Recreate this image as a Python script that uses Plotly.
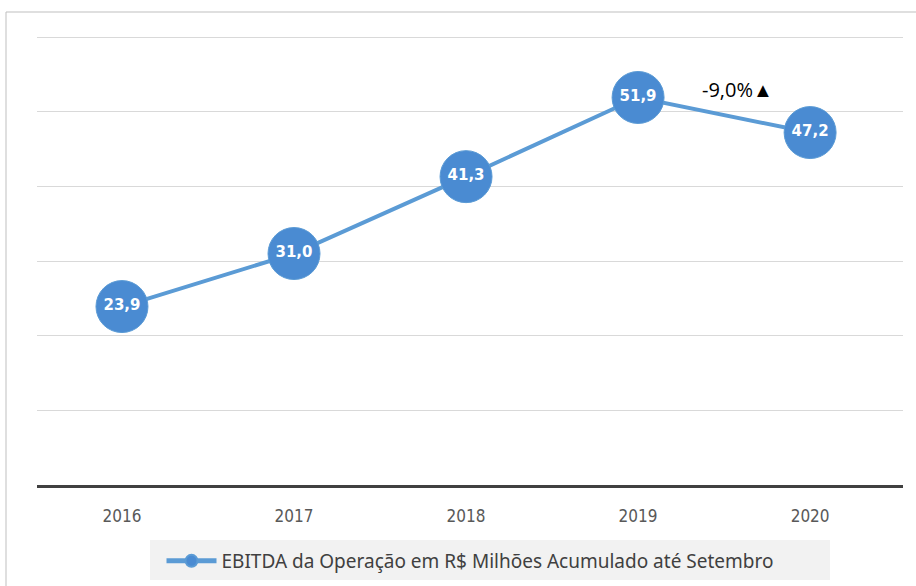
import plotly.graph_objects as go

years = ["2016", "2017", "2018", "2019", "2020"]
ebitda = [23.9, 31.0, 41.3, 51.9, 47.2]
labels = ["23,9", "31,0", "41,3", "51,9", "47,2"]
series_name = "EBITDA da Operação em R$ Milhões Acumulado até Setembro"
note_text = "-9,0%▲"

W, H = 916, 586
L, R, T, B = 37, 13, 30, 101
pw = W - L - R
ph = H - T - B
ytop = 60 * ph / (ph - 7)

fig = go.Figure()
fig.add_trace(go.Scatter(
    x=years, y=ebitda, mode="lines+markers+text", name=series_name,
    line=dict(color="#5B9BD5", width=4),
    marker=dict(size=52, color="#4A8BD2", line=dict(color="#5B9BD5", width=1)),
    text=labels, textposition="middle center",
    textfont=dict(color="white", size=15, family="DejaVu Sans"),
    texttemplate="<b>%{text}</b>",
))

fig.add_annotation(x=3.58, y=53.0, xref="x", yref="y", text=note_text,
                   showarrow=False, font=dict(size=20, color="black", family="Open Sans"))

def px(xp):
    return (xp - L) / pw
def py(yp):
    return (H - B - yp) / ph

# outer frame
fig.add_shape(type="line", xref="paper", yref="paper", x0=px(6), x1=px(6), y0=py(12), y1=py(586),
              line=dict(color="#BFBFBF", width=1))
fig.add_shape(type="line", xref="paper", yref="paper", x0=px(6), x1=px(916), y0=py(12), y1=py(12),
              line=dict(color="#BFBFBF", width=1))
# legend background
fig.add_shape(type="rect", xref="paper", yref="paper", x0=px(150), x1=px(830), y0=py(540), y1=py(580),
              line=dict(width=0), fillcolor="#F2F2F2", layer="below")

fig.update_layout(
    width=W, height=H, margin=dict(l=L, r=R, t=T, b=B, autoexpand=False),
    paper_bgcolor="white", plot_bgcolor="white",
    showlegend=True,
    legend=dict(orientation="h", x=0.5, xanchor="center", y=py(561), yanchor="middle",
                bgcolor="rgba(0,0,0,0)", font=dict(size=19, color="#404040", family="Noto Sans"),
                itemwidth=50, itemsizing="constant"),
    xaxis=dict(type="category", range=[-0.494, 4.54], showgrid=False, showline=True,
               linecolor="#404040", linewidth=3, ticks="", ticklabelstandoff=14,
               tickfont=dict(size=17, color="#595959", family="DejaVu Sans Condensed")),
    yaxis=dict(range=[0, ytop], dtick=10, showgrid=True, gridcolor="#D9D9D9", gridwidth=1,
               showticklabels=False, zeroline=False, fixedrange=True),
)

fig.write_html("out.html")
